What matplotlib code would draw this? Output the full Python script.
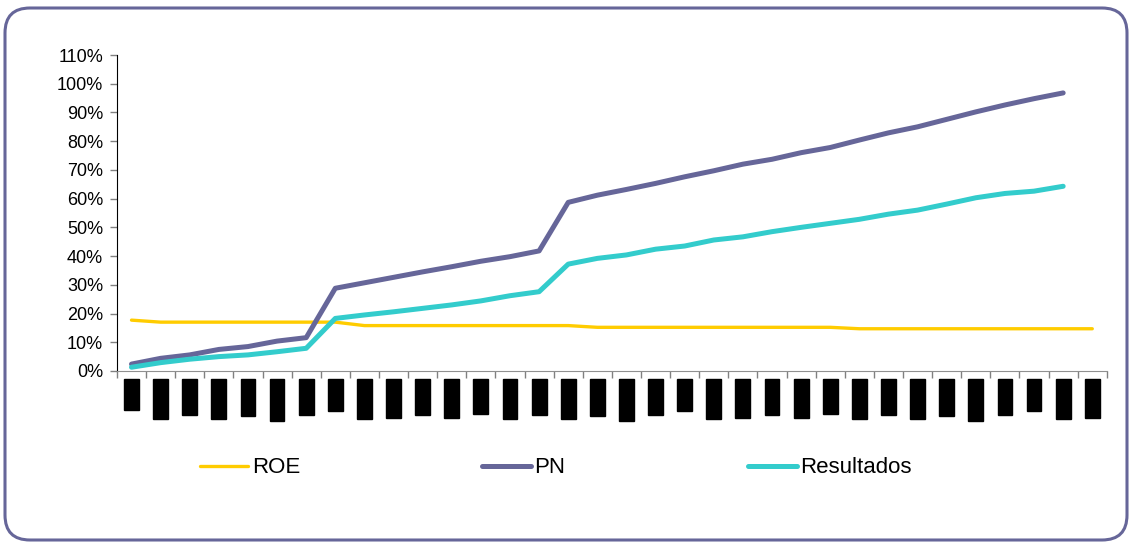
import numpy as np
import matplotlib
matplotlib.use('Agg')
import matplotlib.pyplot as plt
from matplotlib.patches import FancyBboxPatch
from matplotlib.transforms import IdentityTransform

plt.rcParams['font.family'] = ['Liberation Sans', 'DejaVu Sans']

# x labels are blacked out in the source, these are placeholders
meses = ['ene', 'feb', 'mar', 'abr', 'may', 'jun', 'jul', 'ago', 'sep', 'oct', 'nov', 'dic']
labels = ['Inicio'] + [f'{meses[k % 12]}-{6 + k // 12:02d}' for k in range(33)]

roe = [17.7, 17.0, 17.0, 17.0, 17.0, 17.0, 17.0, 17.0, 15.8, 15.8, 15.8, 15.8,
       15.8, 15.8, 15.8, 15.8, 15.2, 15.2, 15.2, 15.2, 15.2, 15.2, 15.2, 15.2,
       15.2, 14.7, 14.7, 14.7, 14.7, 14.7, 14.7, 14.7, 14.7, 14.7]
pn = [2.4, 4.4, 5.6, 7.5, 8.5, 10.4, 11.6, 28.8, 30.7, 32.6, 34.5, 36.3,
      38.2, 39.8, 41.8, 58.7, 61.2, 63.2, 65.3, 67.6, 69.7, 72.0, 73.7, 76.0,
      77.8, 80.4, 82.9, 85.0, 87.6, 90.2, 92.6, 94.8, 96.8]
resultados = [1.3, 2.9, 4.1, 5.0, 5.6, 6.7, 7.9, 18.3, 19.5, 20.6, 21.8, 23.0,
              24.4, 26.2, 27.6, 37.2, 39.2, 40.4, 42.4, 43.5, 45.6, 46.7, 48.5, 50.0,
              51.4, 52.8, 54.6, 56.0, 58.1, 60.3, 61.8, 62.6, 64.3]

fig = plt.figure(figsize=(11.3, 5.43), dpi=100)
ax = fig.add_axes([0.1035, 0.3168, 0.876, 0.5819])

x = np.arange(len(labels))
ax.plot(x, np.array(roe) / 100, color='#FFCC00', lw=2.4, label='ROE',
        solid_capstyle='round', solid_joinstyle='round')
ax.plot(x[:len(pn)], np.array(pn) / 100, color='#666699', lw=3.6, label='PN',
        solid_capstyle='round', solid_joinstyle='round')
ax.plot(x[:len(resultados)], np.array(resultados) / 100, color='#33CCCC', lw=3.6,
        label='Resultados', solid_capstyle='round', solid_joinstyle='round')

ax.set_ylim(0, 1.1)
ax.set_xlim(-0.5, len(labels) - 0.5)
ax.set_yticks(np.arange(0, 1.11, 0.1))
ax.set_yticklabels([f'{v}%' for v in range(0, 111, 10)], fontsize=13)
ax.tick_params(axis='y', length=5, width=1, color='#808080', pad=5)

ax.set_xticks(np.arange(-0.5, len(labels), 1.0))
ax.set_xticklabels([])
ax.tick_params(axis='x', which='major', length=5, width=1, color='#808080')
ax.set_xticks(x, labels, minor=True)
ax.tick_params(axis='x', which='minor', length=0, pad=7)
for t in ax.get_xticklabels(minor=True):
    t.set_rotation(90)
    t.set_fontsize(8.5)
    t.set_color('black')
    t.set_bbox(dict(facecolor='black', edgecolor='black', pad=1.0))

for s in ['top', 'right']:
    ax.spines[s].set_visible(False)
ax.spines['left'].set_color('black')
ax.spines['bottom'].set_color('#909090')

ax.legend(loc='upper center', bbox_to_anchor=(0.443, -0.21), ncol=3, frameon=False,
          fontsize=16, handlelength=2.2, handletextpad=0.15, columnspacing=8.2)

border = FancyBboxPatch((5, 3), 1122, 532, boxstyle='round,pad=0,rounding_size=25',
                        transform=IdentityTransform(), facecolor='none',
                        edgecolor='#666699', lw=2.2)
fig.add_artist(border)

fig.savefig('out.png', dpi=100)
